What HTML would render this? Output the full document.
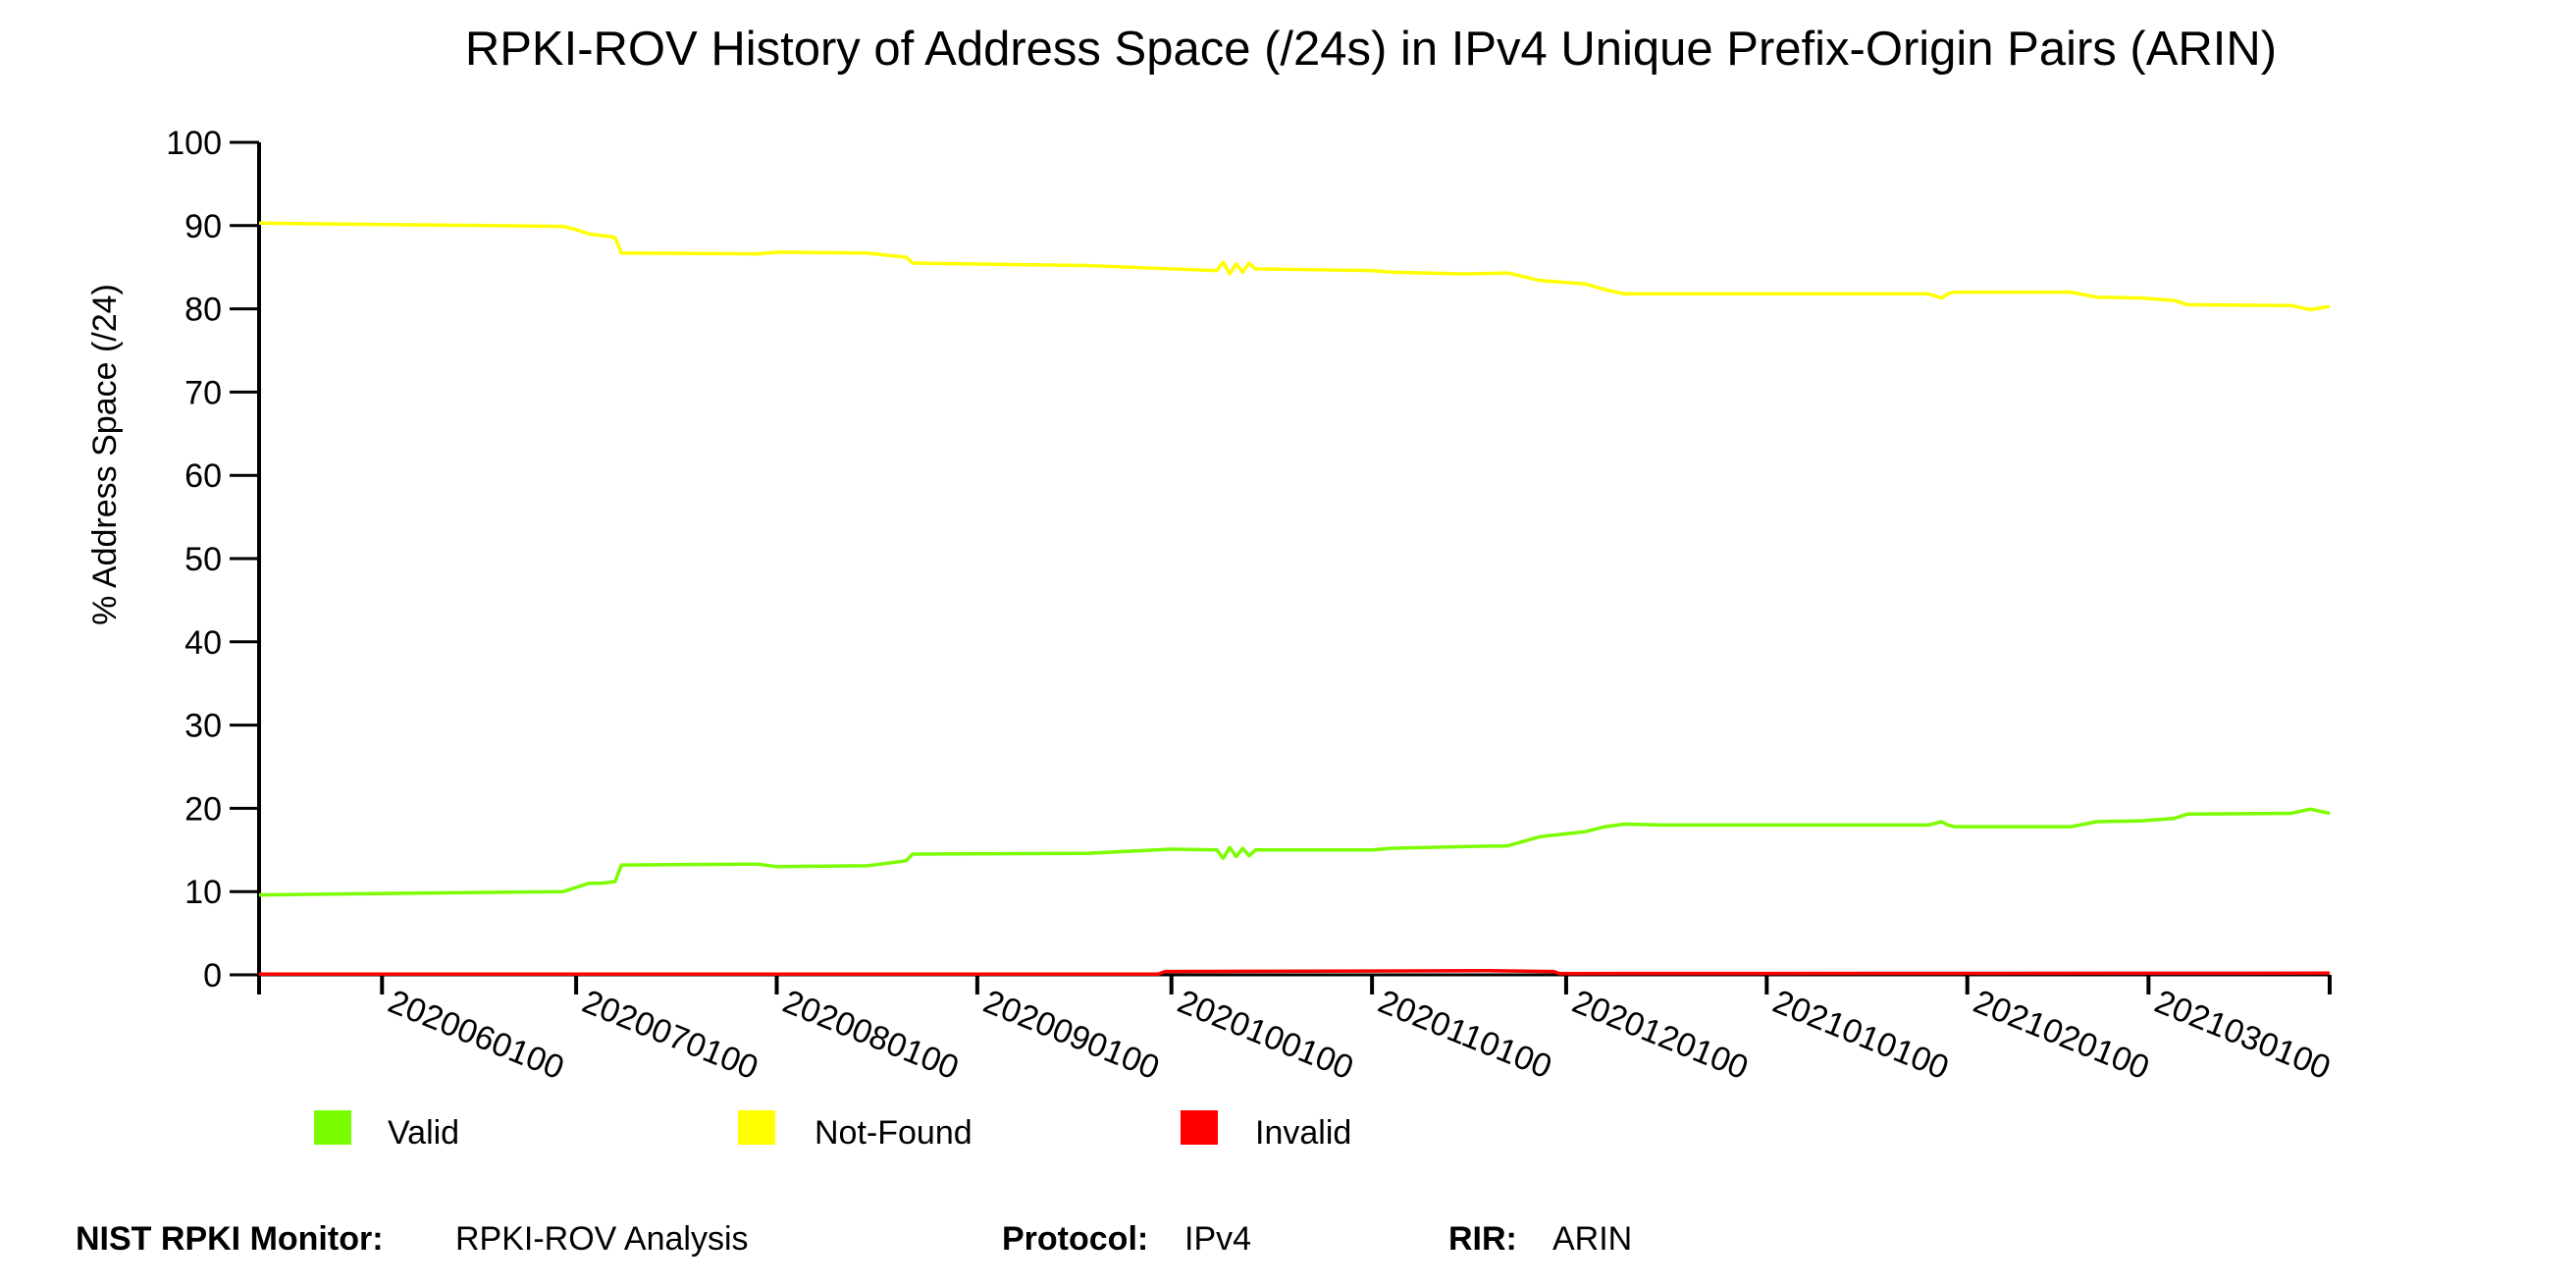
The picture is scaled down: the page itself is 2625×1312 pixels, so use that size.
<!DOCTYPE html>
<html><head><meta charset="utf-8"><style>
body{margin:0;background:#fff;width:2625px;height:1312px;overflow:hidden;font-family:"Liberation Sans",sans-serif}
svg{display:block}
</style></head><body>
<svg id="chart" width="2625" height="1312" viewBox="0 0 2625 1312" xmlns="http://www.w3.org/2000/svg" font-family="Liberation Sans, sans-serif">
<text x="1397" y="66" font-size="49" text-anchor="middle">RPKI-ROV History of Address Space (/24s) in IPv4 Unique Prefix-Origin Pairs (ARIN)</text>
<text transform="translate(118,463) rotate(-90)" font-size="34" text-anchor="middle">% Address Space (/24)</text>
<g id="axes"></g>
<g id="series"></g>
<g>
<rect x="320" y="1131" width="38" height="35" fill="#7cfc00"/>
<text x="395" y="1165" font-size="34">Valid</text>
<rect x="752" y="1131" width="38" height="35" fill="#ffff00"/>
<text x="830" y="1165" font-size="34">Not-Found</text>
<rect x="1203" y="1131" width="38" height="35" fill="#ff0000"/>
<text x="1279" y="1165" font-size="34">Invalid</text>
</g>
<g font-size="34">
<text x="77" y="1273" font-weight="bold">NIST RPKI Monitor:</text>
<text x="464" y="1273">RPKI-ROV Analysis</text>
<text x="1021" y="1273" font-weight="bold">Protocol:</text>
<text x="1207" y="1273">IPv4</text>
<text x="1476" y="1273" font-weight="bold">RIR:</text>
<text x="1582" y="1273">ARIN</text>
</g>
</svg>
<script>
// day offsets from 2020-05-13
const xTickDays = [19, 49, 80, 111, 141, 172, 202, 233, 264, 292];
const xTickLabels = ["2020060100","2020070100","2020080100","2020090100","2020100100","2020110100","2020120100","2021010100","2021020100","2021030100"];
const yTicks = [0,10,20,30,40,50,60,70,80,90,100];
const nfDays =  [0, 11, 47, 49, 51, 53, 55, 56, 77, 80, 94, 100, 101, 128, 141, 148, 149, 150, 151, 152, 153, 154, 172, 175, 186, 193, 198, 205, 208, 211, 217, 224, 258, 260, 261, 262, 280, 284, 291, 296, 298, 314, 317, 320];
const nfVals =  [90.3, 90.2, 89.9, 89.5, 89.0, 88.8, 88.6, 86.7, 86.6, 86.8, 86.7, 86.2, 85.5, 85.2, 84.8, 84.6, 85.6, 84.2, 85.4, 84.4, 85.5, 84.8, 84.6, 84.4, 84.2, 84.3, 83.4, 83.0, 82.3, 81.8, 81.8, 81.8, 81.8, 81.3, 81.8, 82.0, 82.0, 81.4, 81.3, 81.0, 80.5, 80.4, 79.9, 80.3];
const vDays = [0, 11, 47, 49, 51, 53, 55, 56, 77, 80, 94, 100, 101, 128, 141, 148, 149, 150, 151, 152, 153, 154, 172, 175, 186, 193, 198, 205, 208, 211, 217, 224, 258, 260, 261, 262, 280, 284, 291, 296, 298, 314, 317, 320];
const vVals = [9.6, 9.7, 10.0, 10.5, 11.0, 11.0, 11.2, 13.2, 13.3, 13.0, 13.1, 13.7, 14.5, 14.6, 15.1, 15.0, 14.0, 15.3, 14.2, 15.2, 14.3, 15.0, 15.0, 15.2, 15.4, 15.5, 16.6, 17.2, 17.8, 18.1, 18.0, 18.0, 18.0, 18.4, 18.0, 17.8, 17.8, 18.4, 18.5, 18.8, 19.3, 19.4, 19.9, 19.4];
const invDays = [0, 139, 140, 190, 200, 201, 320];
const invVals = [0.1, 0.1, 0.4, 0.5, 0.4, 0.15, 0.2];

const X0=264, X1=2374, Y0=993, Y1=145, DMAX=320;
const xs = d => X0 + (X1-X0)*d/DMAX;
const ys = v => Y0 - (Y0-Y1)*v/100;
const NS="http://www.w3.org/2000/svg";
const axes=document.getElementById('axes'), series=document.getElementById('series');
function mk(tag, attrs, parent){const e=document.createElementNS(NS,tag);for(const k in attrs)e.setAttribute(k,attrs[k]);parent.appendChild(e);return e;}
const yAxis = mk('line',{x1:X0,y1:Y1,x2:X0,y2:Y0+20,stroke:'#000','stroke-width':4},axes);


const xAxis = mk('line',{x1:X0,y1:Y0,x2:X1,y2:Y0,stroke:'#000','stroke-width':3},axes);


const endTick = mk('line',{x1:X1,y1:Y0,x2:X1,y2:Y0+20,stroke:'#000','stroke-width':4},axes);


yTicks.forEach(v=>{
  const t=mk('line',{x1:X0-30,y1:ys(v),x2:X0,y2:ys(v),stroke:'#000','stroke-width':3},axes);
  
  
  const l=mk('text',{x:X0-38,y:ys(v)+12,'font-size':34,'text-anchor':'end'},axes);
  
  
  l.textContent=v;
});
xTickDays.forEach((d,i)=>{
  const x=xs(d);
  const t=mk('line',{x1:x,y1:Y0,x2:x,y2:Y0+20,stroke:'#000','stroke-width':4},axes);
  
  
  const l=mk('text',{transform:`translate(${x+4},${Y0+36}) rotate(22)`,'font-size':34},axes);
  
  
  l.textContent=xTickLabels[i];
});
function line(days, vals, color, name){
  const p=days.map((d,i)=>(i?'L':'M')+xs(d).toFixed(1)+','+ys(vals[i]).toFixed(1)).join(' ');
  const e=mk('path',{d:p,fill:'none',stroke:color,'stroke-width':3.5,'stroke-linejoin':'round'},series);
  
  
}
line(nfDays,nfVals,'#ffff00','not-found-line');
line(vDays,vVals,'#7cfc00','valid-line');
line(invDays,invVals,'#ff0000','invalid-line');
</script>
</body></html>
